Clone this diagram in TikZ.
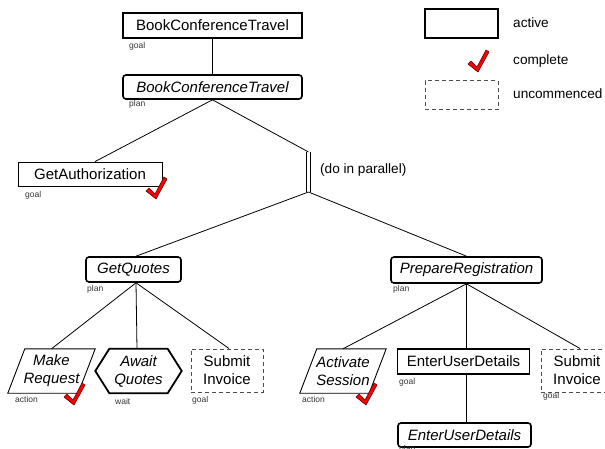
\documentclass[tikz,border=0pt]{standalone}
\usepackage{fontspec}
\setmainfont{Liberation Sans}
\tikzset{
  conn/.style={line width=0.8pt},
  nt/.style={font=\fontsize{15}{18}\selectfont, inner sep=0pt, align=center},
  nti/.style={nt, font=\fontsize{15}{18}\selectfont\itshape},
  goalbox/.style={nt, draw, line width=1.6pt},
  planbox/.style={nt, draw, line width=1.6pt, rounded corners=3pt, font=\fontsize{15}{18}\selectfont\itshape},
  thinbox/.style={nt, draw, line width=0.8pt},
  dashbox/.style={nt, draw=black!70, line width=1pt, dash pattern=on 4pt off 3pt},
  lbl/.style={font=\fontsize{8.5}{10}\selectfont, text=black!80, inner sep=0pt, anchor=west},
  leg/.style={font=\fontsize{13.6}{16}\selectfont, inner sep=0pt, anchor=west},
  pics/chk/.style={code={
    \filldraw[fill=red, draw=black!60!red, line width=0.6pt, line join=round]
      (-9,-7) -- (-6,-10) -- (0,-4) -- (9,-21) -- (12,-19) -- (1,1) -- cycle;}}
}
\begin{document}
\begin{tikzpicture}[x=1pt,y=-1pt]
\useasboundingbox (0,0) rectangle (605,449);
% main nodes
\node[goalbox, minimum width=179pt, minimum height=25pt] (bct) at (212.5,25.5) {BookConferenceTravel};
\node[planbox, minimum width=179pt, minimum height=24pt] (bctp) at (212.5,87) {BookConferenceTravel};
\node[thinbox, minimum width=144pt, minimum height=24pt] (auth) at (90,174) {GetAuthorization};
\coordinate (bartop) at (308.5,152);
\coordinate (barbot) at (308.5,192);
\node[leg] (par) at (320,170) {(do in parallel)};
\node[planbox, minimum width=95pt, minimum height=25pt] (gq) at (133.5,269.5) {GetQuotes};
\node[planbox, minimum width=151pt, minimum height=26pt] (pr) at (466.5,270) {PrepareRegistration};
\node[nti, minimum width=87pt, minimum height=44pt] (mr) at (51.5,371) {Make\\Request};
\node[nti, minimum width=86pt, minimum height=44pt] (aw) at (138.5,371) {Await\\Quotes};
\node[dashbox, minimum width=72pt, minimum height=43pt] (si1) at (227,370.5) {Submit\\Invoice};
\node[nti, minimum width=86pt, minimum height=44pt] (as) at (343,371) {Activate\\Session};
\node[goalbox, minimum width=132pt, minimum height=25pt] (eud) at (463.5,361.5) {EnterUserDetails};
\node[planbox, minimum width=133pt, minimum height=24pt] (eudp) at (464.5,435) {EnterUserDetails};
\node[dashbox, minimum width=72pt, minimum height=43pt] (si2) at (577,370.5) {Submit\\Invoice};
% shapes drawn from anchors
\draw[line width=0.9pt] ([xshift=17pt]mr.north west) -- (mr.north east) -- ([xshift=-17pt]mr.south east) -- (mr.south west) -- cycle;
\draw[line width=0.9pt] ([xshift=17pt]as.north west) -- (as.north east) -- ([xshift=-17pt]as.south east) -- (as.south west) -- cycle;
\draw[line width=1.8pt, line join=miter] (aw.west) -- ([xshift=14pt]aw.north west) -- ([xshift=-14pt]aw.north east) -- (aw.east) -- ([xshift=-14pt]aw.south east) -- ([xshift=14pt]aw.south west) -- cycle;
% parallel bar
\draw[line width=1.2pt, double distance=2.2pt] (bartop) -- (barbot);
% connectors
\draw[conn] (bct.south) -- (bctp.north);
\draw[conn] (bctp.south) -- ([xshift=5pt]auth.north);
\draw[conn] (bctp.south) -- (bartop);
\draw[conn] (barbot) -- ([xshift=2.5pt]gq.north);
\draw[conn] (barbot) -- (pr.north);
\draw[conn] ([xshift=2.5pt]gq.south) -- (mr.north);
\draw[conn] ([xshift=2.5pt]gq.south) -- ([xshift=-1.5pt]aw.north);
\draw[conn] ([xshift=2.5pt]gq.south) -- ([xshift=2pt]si1.north);
\draw[conn] (pr.south) -- (as.north);
\draw[conn] (pr.south) -- (pr.south |- eud.north);
\draw[conn] (pr.south |- eud.south) -- (pr.south |- eudp.north);
\draw[conn] (pr.south) -- ([xshift=3pt]si2.north);
% small labels
\node[lbl] (l1) at (129,46) {goal};
\node[lbl] (l2) at (129,104) {plan};
\node[lbl] (l3) at (25,195) {goal};
\node[lbl] (l4) at (87,289) {plan};
\node[lbl] (l5) at (393,289) {plan};
\node[lbl] (l6) at (15,399) {action};
\node[lbl] (l7) at (115,401) {wait};
\node[lbl] (l8) at (192,400) {goal};
\node[lbl] (l9) at (302,399) {action};
\node[lbl] (l10) at (399,382) {goal};
\node[lbl] (l11) at (543,396) {goal};
\node[lbl] (l12) at (399,449.5) {plan};
% ticks
\pic (c1) at (155,198) {chk};
\pic (c2) at (73,404) {chk};
\pic (c3) at (365,404) {chk};
% legend
\node[goalbox, minimum width=73pt, minimum height=29pt] (legact) at (461.5,23.5) {};
\node[leg] (legacttxt) at (513,23) {active};
\pic (legchk) at (477,71) {chk};
\node[leg] (legchktxt) at (513,61) {complete};
\node[dashbox, minimum width=73pt, minimum height=29pt] (legunc) at (461.5,95.5) {};
\node[leg] (leguncctxt) at (513,94) {uncommenced};
\end{tikzpicture}
\end{document}
